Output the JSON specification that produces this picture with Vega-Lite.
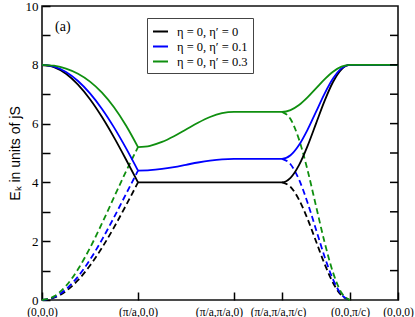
{
  "$schema": "https://vega.github.io/schema/vega-lite/v6.json",
  "width": 356,
  "height": 294,
  "autosize": {"type": "none"},
  "padding": {"left": 42, "top": 6, "right": 17, "bottom": 17},
  "config": {
    "view": {"stroke": "#111111", "strokeWidth": 1.6},
    "axis": {"ticks": true, "tickColor": "#000000", "tickWidth": 1.5, "tickSize": 8, "labelColor": "black", "titleColor": "black", "grid": false, "domain": false, "labelOverlap": false, "labelBound": false}
  },
  "datasets": {
    "upper": [
      {"s": "η = 0, η′ = 0", "p": 1, "x": 0, "y": 8},
      {"s": "η = 0, η′ = 0", "p": 1, "x": 12, "y": 7.923},
      {"s": "η = 0, η′ = 0", "p": 1, "x": 24, "y": 7.696},
      {"s": "η = 0, η′ = 0", "p": 1, "x": 36, "y": 7.326},
      {"s": "η = 0, η′ = 0", "p": 1, "x": 48, "y": 6.828},
      {"s": "η = 0, η′ = 0", "p": 1, "x": 60, "y": 6.222},
      {"s": "η = 0, η′ = 0", "p": 1, "x": 72, "y": 5.531},
      {"s": "η = 0, η′ = 0", "p": 1, "x": 84, "y": 4.78},
      {"s": "η = 0, η′ = 0", "p": 1, "x": 96, "y": 4},
      {"s": "η = 0, η′ = 0", "p": 2, "x": 96, "y": 4},
      {"s": "η = 0, η′ = 0", "p": 2, "x": 192, "y": 4},
      {"s": "η = 0, η′ = 0", "p": 2, "x": 240, "y": 4},
      {"s": "η = 0, η′ = 0", "p": 2, "x": 248.5, "y": 4.152},
      {"s": "η = 0, η′ = 0", "p": 2, "x": 257, "y": 4.586},
      {"s": "η = 0, η′ = 0", "p": 2, "x": 265.5, "y": 5.235},
      {"s": "η = 0, η′ = 0", "p": 2, "x": 274, "y": 6},
      {"s": "η = 0, η′ = 0", "p": 2, "x": 282.5, "y": 6.765},
      {"s": "η = 0, η′ = 0", "p": 2, "x": 291, "y": 7.414},
      {"s": "η = 0, η′ = 0", "p": 2, "x": 299.5, "y": 7.848},
      {"s": "η = 0, η′ = 0", "p": 2, "x": 308, "y": 8},
      {"s": "η = 0, η′ = 0", "p": 2, "x": 356, "y": 8},

      {"s": "η = 0, η′ = 0.1", "p": 1, "x": 0, "y": 8},
      {"s": "η = 0, η′ = 0.1", "p": 1, "x": 12, "y": 7.938},
      {"s": "η = 0, η′ = 0.1", "p": 1, "x": 24, "y": 7.754},
      {"s": "η = 0, η′ = 0.1", "p": 1, "x": 36, "y": 7.449},
      {"s": "η = 0, η′ = 0.1", "p": 1, "x": 48, "y": 7.028},
      {"s": "η = 0, η′ = 0.1", "p": 1, "x": 60, "y": 6.499},
      {"s": "η = 0, η′ = 0.1", "p": 1, "x": 72, "y": 5.872},
      {"s": "η = 0, η′ = 0.1", "p": 1, "x": 84, "y": 5.165},
      {"s": "η = 0, η′ = 0.1", "p": 1, "x": 96, "y": 4.4},
      {"s": "η = 0, η′ = 0.1", "p": 2, "x": 96, "y": 4.4},
      {"s": "η = 0, η′ = 0.1", "p": 2, "x": 108, "y": 4.415},
      {"s": "η = 0, η′ = 0.1", "p": 2, "x": 120, "y": 4.459},
      {"s": "η = 0, η′ = 0.1", "p": 2, "x": 132, "y": 4.523},
      {"s": "η = 0, η′ = 0.1", "p": 2, "x": 144, "y": 4.6},
      {"s": "η = 0, η′ = 0.1", "p": 2, "x": 156, "y": 4.677},
      {"s": "η = 0, η′ = 0.1", "p": 2, "x": 168, "y": 4.741},
      {"s": "η = 0, η′ = 0.1", "p": 2, "x": 180, "y": 4.785},
      {"s": "η = 0, η′ = 0.1", "p": 2, "x": 192, "y": 4.8},
      {"s": "η = 0, η′ = 0.1", "p": 2, "x": 240, "y": 4.8},
      {"s": "η = 0, η′ = 0.1", "p": 2, "x": 248.5, "y": 4.922},
      {"s": "η = 0, η′ = 0.1", "p": 2, "x": 257, "y": 5.269},
      {"s": "η = 0, η′ = 0.1", "p": 2, "x": 265.5, "y": 5.788},
      {"s": "η = 0, η′ = 0.1", "p": 2, "x": 274, "y": 6.4},
      {"s": "η = 0, η′ = 0.1", "p": 2, "x": 282.5, "y": 7.012},
      {"s": "η = 0, η′ = 0.1", "p": 2, "x": 291, "y": 7.531},
      {"s": "η = 0, η′ = 0.1", "p": 2, "x": 299.5, "y": 7.878},
      {"s": "η = 0, η′ = 0.1", "p": 2, "x": 308, "y": 8},
      {"s": "η = 0, η′ = 0.1", "p": 2, "x": 356, "y": 8},

      {"s": "η = 0, η′ = 0.3", "p": 1, "x": 0, "y": 8},
      {"s": "η = 0, η′ = 0.3", "p": 1, "x": 12, "y": 7.969},
      {"s": "η = 0, η′ = 0.3", "p": 1, "x": 24, "y": 7.871},
      {"s": "η = 0, η′ = 0.3", "p": 1, "x": 36, "y": 7.696},
      {"s": "η = 0, η′ = 0.3", "p": 1, "x": 48, "y": 7.428},
      {"s": "η = 0, η′ = 0.3", "p": 1, "x": 60, "y": 7.052},
      {"s": "η = 0, η′ = 0.3", "p": 1, "x": 72, "y": 6.555},
      {"s": "η = 0, η′ = 0.3", "p": 1, "x": 84, "y": 5.935},
      {"s": "η = 0, η′ = 0.3", "p": 1, "x": 96, "y": 5.2},
      {"s": "η = 0, η′ = 0.3", "p": 2, "x": 96, "y": 5.2},
      {"s": "η = 0, η′ = 0.3", "p": 2, "x": 108, "y": 5.246},
      {"s": "η = 0, η′ = 0.3", "p": 2, "x": 120, "y": 5.376},
      {"s": "η = 0, η′ = 0.3", "p": 2, "x": 132, "y": 5.57},
      {"s": "η = 0, η′ = 0.3", "p": 2, "x": 144, "y": 5.8},
      {"s": "η = 0, η′ = 0.3", "p": 2, "x": 156, "y": 6.03},
      {"s": "η = 0, η′ = 0.3", "p": 2, "x": 168, "y": 6.224},
      {"s": "η = 0, η′ = 0.3", "p": 2, "x": 180, "y": 6.354},
      {"s": "η = 0, η′ = 0.3", "p": 2, "x": 192, "y": 6.4},
      {"s": "η = 0, η′ = 0.3", "p": 2, "x": 240, "y": 6.4},
      {"s": "η = 0, η′ = 0.3", "p": 2, "x": 248.5, "y": 6.461},
      {"s": "η = 0, η′ = 0.3", "p": 2, "x": 257, "y": 6.634},
      {"s": "η = 0, η′ = 0.3", "p": 2, "x": 265.5, "y": 6.894},
      {"s": "η = 0, η′ = 0.3", "p": 2, "x": 274, "y": 7.2},
      {"s": "η = 0, η′ = 0.3", "p": 2, "x": 282.5, "y": 7.506},
      {"s": "η = 0, η′ = 0.3", "p": 2, "x": 291, "y": 7.766},
      {"s": "η = 0, η′ = 0.3", "p": 2, "x": 299.5, "y": 7.939},
      {"s": "η = 0, η′ = 0.3", "p": 2, "x": 308, "y": 8},
      {"s": "η = 0, η′ = 0.3", "p": 2, "x": 356, "y": 8}
    ],
    "lower": [
      {"s": "η = 0, η′ = 0", "p": 1, "x": 0, "y": 0},
      {"s": "η = 0, η′ = 0", "p": 1, "x": 12, "y": 0.077},
      {"s": "η = 0, η′ = 0", "p": 1, "x": 24, "y": 0.304},
      {"s": "η = 0, η′ = 0", "p": 1, "x": 36, "y": 0.674},
      {"s": "η = 0, η′ = 0", "p": 1, "x": 48, "y": 1.172},
      {"s": "η = 0, η′ = 0", "p": 1, "x": 60, "y": 1.778},
      {"s": "η = 0, η′ = 0", "p": 1, "x": 72, "y": 2.469},
      {"s": "η = 0, η′ = 0", "p": 1, "x": 84, "y": 3.22},
      {"s": "η = 0, η′ = 0", "p": 1, "x": 96, "y": 4},
      {"s": "η = 0, η′ = 0", "p": 2, "x": 240, "y": 4},
      {"s": "η = 0, η′ = 0", "p": 2, "x": 248.5, "y": 3.848},
      {"s": "η = 0, η′ = 0", "p": 2, "x": 257, "y": 3.414},
      {"s": "η = 0, η′ = 0", "p": 2, "x": 265.5, "y": 2.765},
      {"s": "η = 0, η′ = 0", "p": 2, "x": 274, "y": 2},
      {"s": "η = 0, η′ = 0", "p": 2, "x": 282.5, "y": 1.235},
      {"s": "η = 0, η′ = 0", "p": 2, "x": 291, "y": 0.586},
      {"s": "η = 0, η′ = 0", "p": 2, "x": 299.5, "y": 0.152},
      {"s": "η = 0, η′ = 0", "p": 2, "x": 308, "y": 0},

      {"s": "η = 0, η′ = 0.1", "p": 1, "x": 0, "y": 0},
      {"s": "η = 0, η′ = 0.1", "p": 1, "x": 12, "y": 0.092},
      {"s": "η = 0, η′ = 0.1", "p": 1, "x": 24, "y": 0.363},
      {"s": "η = 0, η′ = 0.1", "p": 1, "x": 36, "y": 0.798},
      {"s": "η = 0, η′ = 0.1", "p": 1, "x": 48, "y": 1.372},
      {"s": "η = 0, η′ = 0.1", "p": 1, "x": 60, "y": 2.054},
      {"s": "η = 0, η′ = 0.1", "p": 1, "x": 72, "y": 2.811},
      {"s": "η = 0, η′ = 0.1", "p": 1, "x": 84, "y": 3.604},
      {"s": "η = 0, η′ = 0.1", "p": 1, "x": 96, "y": 4.4},
      {"s": "η = 0, η′ = 0.1", "p": 2, "x": 240, "y": 4.8},
      {"s": "η = 0, η′ = 0.1", "p": 2, "x": 248.5, "y": 4.617},
      {"s": "η = 0, η′ = 0.1", "p": 2, "x": 257, "y": 4.097},
      {"s": "η = 0, η′ = 0.1", "p": 2, "x": 265.5, "y": 3.318},
      {"s": "η = 0, η′ = 0.1", "p": 2, "x": 274, "y": 2.4},
      {"s": "η = 0, η′ = 0.1", "p": 2, "x": 282.5, "y": 1.482},
      {"s": "η = 0, η′ = 0.1", "p": 2, "x": 291, "y": 0.703},
      {"s": "η = 0, η′ = 0.1", "p": 2, "x": 299.5, "y": 0.183},
      {"s": "η = 0, η′ = 0.1", "p": 2, "x": 308, "y": 0},

      {"s": "η = 0, η′ = 0.3", "p": 1, "x": 0, "y": 0},
      {"s": "η = 0, η′ = 0.3", "p": 1, "x": 12, "y": 0.123},
      {"s": "η = 0, η′ = 0.3", "p": 1, "x": 24, "y": 0.48},
      {"s": "η = 0, η′ = 0.3", "p": 1, "x": 36, "y": 1.045},
      {"s": "η = 0, η′ = 0.3", "p": 1, "x": 48, "y": 1.772},
      {"s": "η = 0, η′ = 0.3", "p": 1, "x": 60, "y": 2.607},
      {"s": "η = 0, η′ = 0.3", "p": 1, "x": 72, "y": 3.494},
      {"s": "η = 0, η′ = 0.3", "p": 1, "x": 84, "y": 4.374},
      {"s": "η = 0, η′ = 0.3", "p": 1, "x": 96, "y": 5.2},
      {"s": "η = 0, η′ = 0.3", "p": 2, "x": 240, "y": 6.4},
      {"s": "η = 0, η′ = 0.3", "p": 2, "x": 248.5, "y": 6.156},
      {"s": "η = 0, η′ = 0.3", "p": 2, "x": 257, "y": 5.463},
      {"s": "η = 0, η′ = 0.3", "p": 2, "x": 265.5, "y": 4.425},
      {"s": "η = 0, η′ = 0.3", "p": 2, "x": 274, "y": 3.2},
      {"s": "η = 0, η′ = 0.3", "p": 2, "x": 282.5, "y": 1.975},
      {"s": "η = 0, η′ = 0.3", "p": 2, "x": 291, "y": 0.937},
      {"s": "η = 0, η′ = 0.3", "p": 2, "x": 299.5, "y": 0.244},
      {"s": "η = 0, η′ = 0.3", "p": 2, "x": 308, "y": 0}
    ],
    "yticks": [{"v": 1}, {"v": 2}, {"v": 3}, {"v": 4}, {"v": 5}, {"v": 6}, {"v": 7}, {"v": 8}, {"v": 9}]
  },
  "encoding": {
    "x": {"type": "quantitative", "scale": {"domain": [0, 356], "nice": false, "zero": false},
          "axis": {"values": [0, 96, 192, 240, 308, 356], "offset": -8, "labelPadding": 6, "labelFlush": false,
                   "labelFont": "Liberation Serif", "labelFontSize": 11.5, "title": null,
                   "labelOffset": {"condition": [{"test": "datum.value == 192", "value": -15}, {"test": "datum.value == 240", "value": -4}], "value": 0},
                   "labelExpr": "datum.value == 0 ? '(0,0,0)' : datum.value == 96 ? '(π/a,0,0)' : datum.value == 192 ? '(π/a,π/a,0)' : datum.value == 240 ? '(π/a,π/a,π/c)' : datum.value == 308 ? '(0,0,π/c)' : '(0,0,0)'"}},
    "y": {"type": "quantitative", "scale": {"domain": [0, 10], "nice": false},
          "axis": {"values": [0, 1, 2, 3, 4, 5, 6, 7, 8, 9, 10], "offset": -8, "labelPadding": 4,
                   "labelExpr": "datum.value % 2 == 0 ? datum.label : ''",
                   "labelFont": "Liberation Serif", "labelFontSize": 13,
                   "title": "Eₖ in units of jS", "titleFont": "Liberation Sans", "titleFontSize": 14, "titleFontWeight": "normal", "titlePadding": 3}}
  },
  "layer": [
    {
      "data": {"name": "lower"},
      "mark": {"type": "line", "interpolate": "monotone", "strokeWidth": 1.8, "strokeDash": [6, 3.5]},
      "encoding": {
        "x": {"field": "x"},
        "y": {"field": "y"},
        "color": {"field": "s", "type": "nominal",
                  "scale": {"domain": ["η = 0, η′ = 0", "η = 0, η′ = 0.1", "η = 0, η′ = 0.3"], "range": ["#000000", "#0000ff", "#0f8f0f"]},
                  "legend": {"orient": "none", "legendX": 105, "legendY": 12, "title": null, "symbolType": "stroke", "symbolDash": [1, 0],
                             "symbolStrokeWidth": 2, "symbolSize": 225, "labelFont": "Liberation Serif", "labelFontSize": 12.5,
                             "labelColor": "black", "strokeColor": "#444444", "fillColor": "white", "padding": 5, "rowPadding": 0, "labelOffset": 8}},
        "detail": {"field": "p", "type": "nominal"}
      }
    },
    {
      "data": {"name": "upper"},
      "mark": {"type": "line", "interpolate": "monotone", "strokeWidth": 1.8},
      "encoding": {
        "x": {"field": "x"},
        "y": {"field": "y"},
        "color": {"field": "s", "type": "nominal",
                  "scale": {"domain": ["η = 0, η′ = 0", "η = 0, η′ = 0.1", "η = 0, η′ = 0.3"], "range": ["#000000", "#0000ff", "#0f8f0f"]},
                  "legend": {"orient": "none", "legendX": 105, "legendY": 12, "title": null, "symbolType": "stroke", "symbolDash": [1, 0],
                             "symbolStrokeWidth": 2, "symbolSize": 225, "labelFont": "Liberation Serif", "labelFontSize": 12.5,
                             "labelColor": "black", "strokeColor": "#444444", "fillColor": "white", "padding": 5, "rowPadding": 0, "labelOffset": 8}},
        "detail": {"field": "p", "type": "nominal"}
      }
    },
    {
      "data": {"name": "yticks"},
      "mark": {"type": "rule", "color": "#000000", "strokeWidth": 1.5},
      "encoding": {
        "y": {"field": "v"},
        "x": {"datum": 348},
        "x2": {"datum": 356}
      }
    },
    {
      "data": {"values": [{}]},
      "mark": {"type": "text", "align": "left", "baseline": "middle", "font": "Liberation Serif", "fontSize": 14, "color": "black"},
      "encoding": {
        "x": {"datum": 13},
        "y": {"datum": 9.3},
        "text": {"value": "(a)"}
      }
    }
  ]
}
